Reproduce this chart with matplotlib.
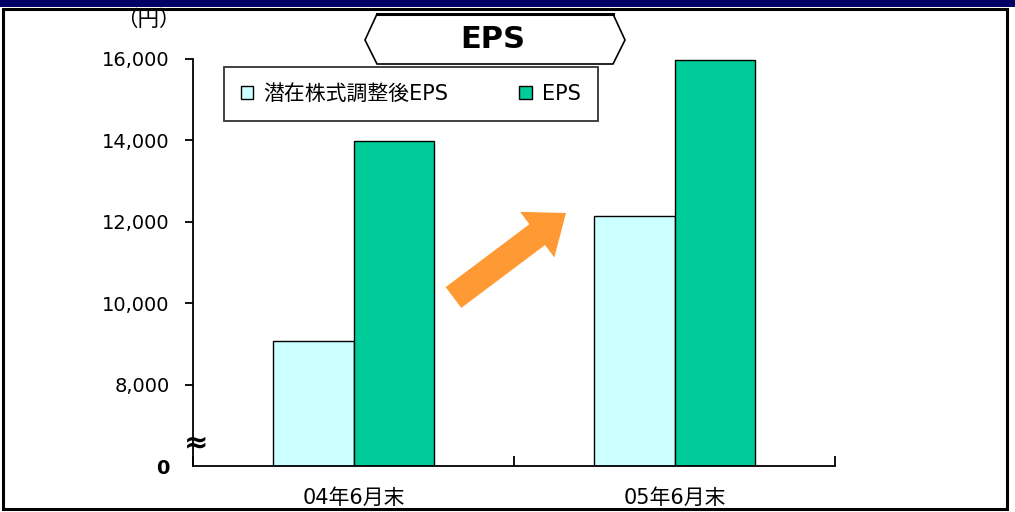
import matplotlib
matplotlib.use("Agg")
import matplotlib.pyplot as plt
import matplotlib.patches as mpatches
from matplotlib.font_manager import FontProperties
from matplotlib.lines import Line2D

plt.rcParams['font.family'] = ['DejaVu Sans', 'Noto Sans CJK JP']

# Data
categories = ["04年6月末", "05年6月末"]
diluted_eps = [9060, 12150]
eps = [13980, 15980]
series_names = ["潜在株式調整後EPS", "EPS"]
ytick_values = [8000, 10000, 12000, 14000, 16000]

# Broken axis: the axis floor stands in for zero
axis_floor = 6000

W, H = 1015, 512
fig = plt.figure(figsize=(W / 100, H / 100), dpi=100)

def px(x, y):
    return x / 100, (H - y) / 100

num_font = FontProperties(family=['DejaVu Sans'], size=14)
cjk_font = FontProperties(family=['DejaVu Sans', 'Noto Sans CJK JP'], size=15)

# Frame around the chart
fig.patches.append(mpatches.Rectangle((3 / W, 3 / H), 1004 / W, 500 / H, transform=fig.transFigure,
                                      fill=False, edgecolor="black", linewidth=2.2))
fig.patches.append(mpatches.Rectangle((0, (H - 7) / H), 1, 7 / H, transform=fig.transFigure,
                                      facecolor="#000066", edgecolor="none"))

ax = fig.add_axes([193 / W, 46 / H, 642 / W, 407 / H])

x = range(len(categories))
bw = 0.25
ax.bar([i - bw / 2 for i in x], [v - axis_floor for v in diluted_eps], bottom=axis_floor, width=bw,
       color="#CCFFFF", edgecolor="black", linewidth=1.0, label=series_names[0], zorder=2)
ax.bar([i + bw / 2 for i in x], [v - axis_floor for v in eps], bottom=axis_floor, width=bw,
       color="#00CC99", edgecolor="black", linewidth=1.0, label=series_names[1], zorder=2)

ax.set_xlim(-0.5, len(categories) - 0.5)
ax.set_ylim(axis_floor, 16000)
for s in ["top", "right"]:
    ax.spines[s].set_visible(False)
for s in ["left", "bottom"]:
    ax.spines[s].set_linewidth(1.3)

ax.set_yticks([axis_floor] + ytick_values)
ax.set_yticklabels(["0"] + [f"{v:,}" for v in ytick_values])
for lbl in ax.get_yticklabels():
    lbl.set_fontproperties(num_font)
ax.get_yticklabels()[0].set_fontweight("bold")
ax.tick_params(axis="y", length=6, width=1.3, pad=11)
ax.yaxis.get_major_ticks()[0].tick1line.set_visible(False)

# Category boundaries carry the ticks; labels sit at the centres
ax.set_xticks([i + 0.5 for i in range(-1, len(categories))])
ax.set_xticklabels([])
ax.set_xticks(list(x), minor=True)
ax.set_xticklabels(categories, minor=True)
for lbl in ax.get_xticklabels(minor=True):
    lbl.set_fontproperties(cjk_font)
ax.tick_params(axis="x", which="major", length=7, width=1.3, direction="in")
ax.tick_params(axis="x", which="minor", length=0, pad=16)

# Axis break mark
fig.text(196 / W, (H - 443) / H, "≈", fontsize=21, fontweight="bold", ha="center", va="center",
         family="DejaVu Sans")

# Unit label
fig.text(148 / W, (H - 20) / H, "（円）", fontsize=15.5, ha="center", va="center",
         family=['Noto Sans CJK JP'])

# Legend
handles = [mpatches.Patch(facecolor="#CCFFFF", edgecolor="black", linewidth=1.0),
           mpatches.Patch(facecolor="#00CC99", edgecolor="black", linewidth=1.0)]
leg = fig.legend(handles, series_names, loc="center", bbox_to_anchor=(411 / W, (H - 94) / H),
                 ncol=2, prop=cjk_font, frameon=True, fancybox=False, edgecolor="black",
                 handlelength=0.6, handleheight=0.6, handletextpad=0.5, columnspacing=3.4,
                 borderpad=0.8)
leg.get_frame().set_linewidth(1.3)

# Title plaque
hexa = [(365, 40), (377, 14), (613, 14), (625, 40), (613, 64), (377, 64)]
fig.patches.append(mpatches.Polygon([px(a, b) for a, b in hexa], closed=True,
                                    transform=fig.dpi_scale_trans, facecolor="white",
                                    edgecolor="black", linewidth=1.2))
fig.lines.append(Line2D([377 / W, 613 / W], [(H - 14) / H, (H - 14) / H], transform=fig.transFigure,
                        color="black", linewidth=2.2))
fig.text(493 / W, (H - 40) / H, "EPS", fontsize=22, fontweight="bold", ha="center", va="center",
         family="DejaVu Sans")

# Growth arrow
x0, y0 = px(453.5, 297.5)
x1, y1 = px(566, 213)
fig.patches.append(mpatches.FancyArrow(x0, y0, x1 - x0, y1 - y0, width=0.26, head_width=0.57,
                                       head_length=0.36, length_includes_head=True,
                                       transform=fig.dpi_scale_trans, facecolor="#FF9933",
                                       edgecolor="none"))

fig.savefig("out.png", dpi=100)
